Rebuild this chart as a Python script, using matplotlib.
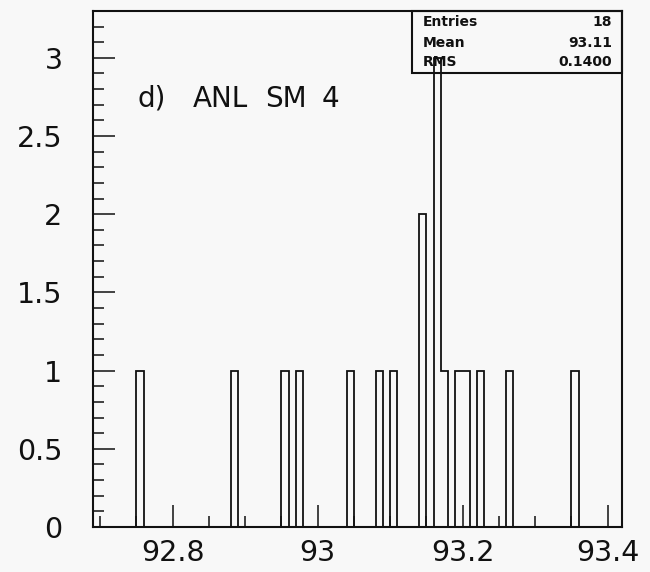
import numpy as np
import matplotlib
matplotlib.use("Agg")
import matplotlib.pyplot as plt
from matplotlib.ticker import MultipleLocator, FuncFormatter
from matplotlib.patches import Rectangle

# bin centres (width 0.01) and entries per bin
bin_centres = [92.755, 92.885, 92.955, 92.975, 93.045, 93.085, 93.105,
               93.145, 93.165, 93.175, 93.195, 93.205, 93.225, 93.265, 93.355]
bin_counts = [1, 1, 1, 1, 1, 1, 1, 2, 3, 1, 1, 1, 1, 1, 1]

stat_names = ["Entries", "Mean", "RMS"]
stat_values = ["18", "93.11", "0.1400"]

# panel label, word by word (the plotter font is wide-spaced)
label_words = ["d)", "ANL", "SM", "4"]
label_xpos = [0.085, 0.189, 0.325, 0.433]

x_lo, x_hi, n_bins = 92.69, 93.42, 73
edges = np.linspace(x_lo, x_hi, n_bins + 1)

bg = "#f8f8f8"
ink = "#111111"

fig = plt.figure(figsize=(6.5, 5.72), dpi=100, facecolor=bg)
ax = fig.add_axes([0.143, 0.0787, 0.814, 0.9023], facecolor=bg)

ax.hist(bin_centres, bins=edges, weights=bin_counts, histtype="step",
        color=ink, linewidth=1.3)

ax.set_xlim(x_lo, x_hi)
ax.set_ylim(0, 3.3)

fmt = FuncFormatter(lambda v, p: f"{v:g}")
ax.xaxis.set_major_locator(MultipleLocator(0.2))
ax.xaxis.set_minor_locator(MultipleLocator(0.05))
ax.yaxis.set_major_locator(MultipleLocator(0.5))
ax.yaxis.set_minor_locator(MultipleLocator(0.1))
ax.xaxis.set_major_formatter(fmt)
ax.yaxis.set_major_formatter(fmt)

ax.tick_params(which="both", direction="in", top=False, right=False,
               color=ink, width=1.1, labelsize=20.5, labelcolor=ink)
ax.tick_params(which="major", length=16)
ax.tick_params(which="minor", length=8)
ax.tick_params(axis="y", which="major", pad=22)
ax.tick_params(axis="x", which="major", pad=9)

for s in ax.spines.values():
    s.set_linewidth(1.5)
    s.set_color(ink)

for word, xp in zip(label_words, label_xpos):
    ax.text(xp, 0.830, word, transform=ax.transAxes, fontsize=20,
            color=ink, ha="left", va="center")

# statistics box in the upper right corner
box_x0, box_y0 = 0.603, 0.880
ax.add_patch(Rectangle((box_x0, box_y0), 1 - box_x0, 1 - box_y0,
                       transform=ax.transAxes, facecolor="none",
                       edgecolor=ink, linewidth=1.5, clip_on=False, zorder=5))
for name, val, y in zip(stat_names, stat_values, [0.979, 0.938, 0.901]):
    ax.text(0.624, y, name, transform=ax.transAxes, fontsize=10,
            fontweight="bold", color=ink, ha="left", va="center")
    ax.text(0.981, y, val, transform=ax.transAxes, fontsize=10,
            fontweight="bold", color=ink, ha="right", va="center")

fig.savefig("out.png", dpi=100, facecolor=bg)
